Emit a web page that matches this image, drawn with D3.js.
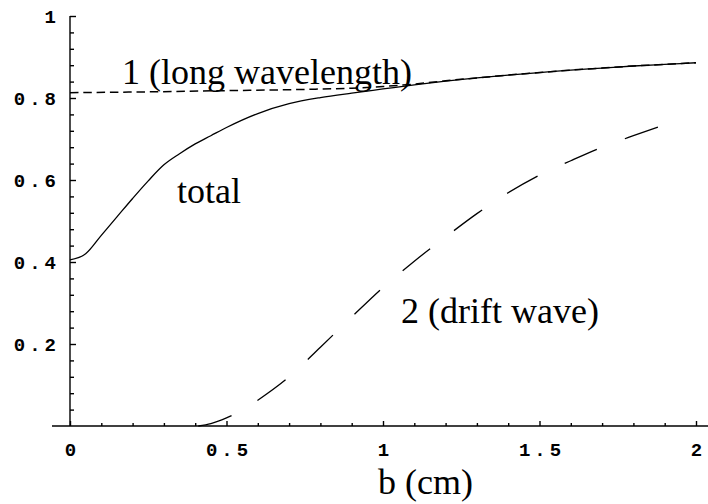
<!DOCTYPE html>
<html>
<head>
<meta charset="utf-8">
<script src="https://cdn.jsdelivr.net/npm/d3@7"></script>
<style>
html,body{margin:0;padding:0;background:#fff;}
svg{display:block;}
</style>
</head>
<body>
<div id="chart"></div>
<script>
// ---- data ----
const xTickValues = [0, 0.5, 1, 1.5, 2];
const xTickLabels = ["0", "0.5", "1", "1.5", "2"];
const yTickValues = [0.2, 0.4, 0.6, 0.8, 1];
const yTickLabels = ["0.2", "0.4", "0.6", "0.8", "1"];

const bTotal = [0, 0.05, 0.1, 0.15, 0.2, 0.25, 0.3, 0.35, 0.4, 0.45, 0.5, 0.6, 0.7, 0.8, 0.9, 1.0, 1.1, 1.2, 1.3, 1.4, 1.5, 1.6, 1.7, 1.8, 1.9, 2.0];
const totalValues = [0.405, 0.42, 0.465, 0.51, 0.555, 0.598, 0.637, 0.664, 0.688, 0.708, 0.728, 0.762, 0.786, 0.801, 0.812, 0.822, 0.832, 0.841, 0.849, 0.856, 0.862, 0.868, 0.873, 0.878, 0.882, 0.886];

const bLong = [0, 0.25, 0.5, 0.75, 0.9, 1.0, 1.1, 1.2, 1.3, 1.4, 1.5, 1.6, 1.7, 1.8, 1.9, 2.0];
const longValues = [0.813, 0.815, 0.818, 0.821, 0.824, 0.828, 0.834, 0.842, 0.849, 0.856, 0.862, 0.868, 0.873, 0.878, 0.882, 0.886];

const bDrift = [0.41, 0.45, 0.5, 0.55, 0.6, 0.7, 0.8, 0.9, 1.0, 1.1, 1.2, 1.3, 1.4, 1.5, 1.6, 1.7, 1.8, 1.91];
const driftValues = [0, 0.006, 0.02, 0.038, 0.063, 0.12, 0.192, 0.266, 0.338, 0.402, 0.461, 0.518, 0.569, 0.612, 0.647, 0.68, 0.708, 0.737];

const labelLong = "1 (long wavelength)";
const labelTotal = "total";
const labelDrift = "2 (drift wave)";
const labelX = "b (cm)";

// ---- layout ----
const W = 708, H = 504;
const x = d3.scaleLinear().domain([0, 2]).range([70, 696]);
const y = d3.scaleLinear().domain([0, 1]).range([426, 16]);

const svg = d3.select("#chart").append("svg").attr("width", W).attr("height", H);
svg.append("rect").attr("width", W).attr("height", H).attr("fill", "#fff");

const tickFont = "'Liberation Mono', 'DejaVu Sans Mono', monospace";
const serif = "'Liberation Serif', 'Times New Roman', serif";
const TF = 19, LS = 4;

// axes lines
svg.append("line").attr("x1", 52).attr("x2", 708).attr("y1", y(0)).attr("y2", y(0))
  .attr("stroke", "#000").attr("stroke-width", 1.4);
svg.append("line").attr("x1", x(0)).attr("x2", x(0)).attr("y1", y(0)).attr("y2", y(1))
  .attr("stroke", "#000").attr("stroke-width", 1.4);

// y axis ticks (inward, to the right)
const yMinor = d3.range(1, 25).map(i => i * 0.04).filter(v => Math.abs(v / 0.2 - Math.round(v / 0.2)) > 1e-6);
const yAxisMajor = d3.axisLeft(y).tickValues(yTickValues).tickSizeInner(-6).tickSizeOuter(0).tickPadding(14)
  .tickFormat((d, i) => yTickLabels[i]);
const gy = svg.append("g").attr("transform", `translate(${x(0)},0)`).call(yAxisMajor);
const yAxisMinor = d3.axisLeft(y).tickValues(yMinor).tickSizeInner(-4).tickSizeOuter(0).tickFormat("");
const gy2 = svg.append("g").attr("transform", `translate(${x(0)},0)`).call(yAxisMinor);

// x axis ticks (inward, up)
const xMinor = d3.range(1, 21).map(i => i * 0.1).filter(v => Math.abs(v / 0.5 - Math.round(v / 0.5)) > 1e-6);
const xAxisMajor = d3.axisBottom(x).tickValues(xTickValues).tickSizeInner(-5).tickSizeOuter(0).tickPadding(26)
  .tickFormat((d, i) => xTickLabels[i]);
const gx = svg.append("g").attr("transform", `translate(0,${y(0)})`).call(xAxisMajor);
const xAxisMinor = d3.axisBottom(x).tickValues(xMinor).tickSizeInner(-3).tickSizeOuter(0).tickFormat("");
const gx2 = svg.append("g").attr("transform", `translate(0,${y(0)})`).call(xAxisMinor);

[gy, gy2, gx, gx2].forEach(g => {
  g.select(".domain").remove();
  g.selectAll(".tick line").attr("stroke", "#000").attr("stroke-width", 1.4);
});
gy.selectAll(".tick text").attr("font-family", tickFont).attr("font-size", TF).attr("font-weight", "bold")
  .attr("fill", "#000").attr("letter-spacing", LS).attr("dx", LS).attr("dy", "0.36em");
gx.selectAll(".tick text").attr("font-family", tickFont).attr("font-size", TF).attr("font-weight", "bold")
  .attr("fill", "#000").attr("letter-spacing", LS).attr("dx", LS / 2).attr("dy", "0.2em");

// curves
const line = d3.line().x(d => x(d[0])).y(d => y(d[1])).curve(d3.curveMonotoneX);

svg.append("path").datum(bTotal.map((b, i) => [b, totalValues[i]]))
  .attr("d", line).attr("fill", "none").attr("stroke", "#000").attr("stroke-width", 1.3);

svg.append("path").datum(bLong.map((b, i) => [b, longValues[i]]))
  .attr("d", line).attr("fill", "none").attr("stroke", "#000").attr("stroke-width", 1.5)
  .attr("stroke-dasharray", "8.5,4.8");

svg.append("path").datum(bDrift.map((b, i) => [b, driftValues[i]]))
  .attr("d", line).attr("fill", "none").attr("stroke", "#000").attr("stroke-width", 1.3)
  .attr("stroke-dasharray", "35,30");

// text labels
function label(t, px, py) {
  svg.append("text").attr("x", px).attr("y", py).text(t)
    .attr("font-family", serif).attr("font-size", 36).attr("fill", "#000");
}
label(labelLong, 122, 84);
label(labelTotal, 177, 203);
label(labelDrift, 401, 323);
label(labelX, 378, 494);
</script>
</body>
</html>
